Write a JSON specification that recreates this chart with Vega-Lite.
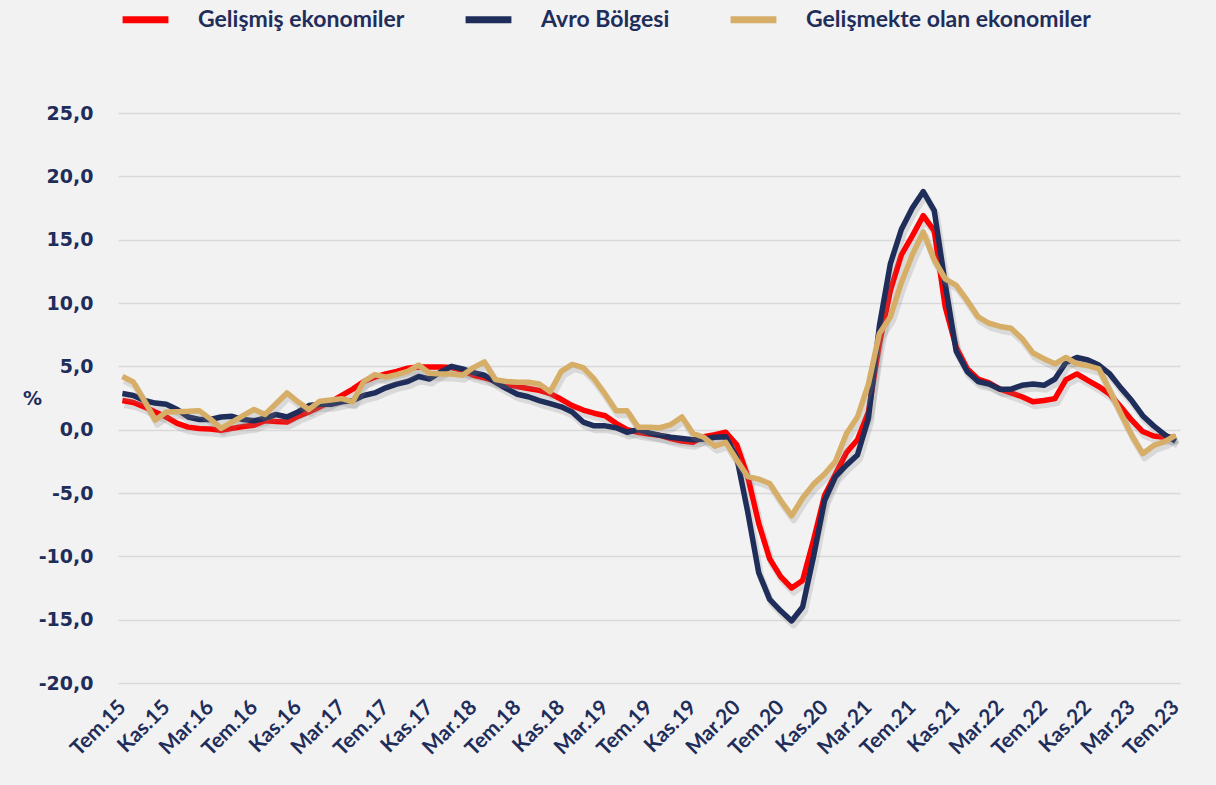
{
  "$schema": "https://vega.github.io/schema/vega-lite/v6.json",
  "width": 1062,
  "height": 570,
  "autosize": {"type": "none"},
  "padding": {"left": 118, "top": 113, "right": 36, "bottom": 102},
  "background": "#F2F2F2",
  "config": {"view": {"stroke": null}},
  "datasets": {
    "seri": [
      {"tarih": "2015-07", "G": 2.3, "A": 2.85, "E": 4.2},
      {"tarih": "2015-08", "G": 2.15, "A": 2.7, "E": 3.76},
      {"tarih": "2015-09", "G": 1.8, "A": 2.3, "E": 2.3},
      {"tarih": "2015-10", "G": 1.4, "A": 2.1, "E": 0.75},
      {"tarih": "2015-11", "G": 1.0, "A": 2.0, "E": 1.4},
      {"tarih": "2015-12", "G": 0.5, "A": 1.6, "E": 1.42},
      {"tarih": "2016-01", "G": 0.2, "A": 1.0, "E": 1.45},
      {"tarih": "2016-02", "G": 0.1, "A": 0.8, "E": 1.5},
      {"tarih": "2016-03", "G": 0.05, "A": 0.8, "E": 0.85},
      {"tarih": "2016-04", "G": -0.05, "A": 1.0, "E": 0.1},
      {"tarih": "2016-05", "G": 0.1, "A": 1.05, "E": 0.6},
      {"tarih": "2016-06", "G": 0.25, "A": 0.8, "E": 1.1},
      {"tarih": "2016-07", "G": 0.35, "A": 0.7, "E": 1.6},
      {"tarih": "2016-08", "G": 0.7, "A": 0.9, "E": 1.2},
      {"tarih": "2016-09", "G": 0.65, "A": 1.2, "E": 2.05},
      {"tarih": "2016-10", "G": 0.6, "A": 1.0, "E": 2.9},
      {"tarih": "2016-11", "G": 1.05, "A": 1.4, "E": 2.2},
      {"tarih": "2016-12", "G": 1.4, "A": 1.9, "E": 1.6},
      {"tarih": "2017-01", "G": 1.8, "A": 2.0, "E": 2.25},
      {"tarih": "2017-02", "G": 2.2, "A": 2.0, "E": 2.35},
      {"tarih": "2017-03", "G": 2.7, "A": 2.2, "E": 2.45},
      {"tarih": "2017-04", "G": 3.2, "A": 2.3, "E": 2.2},
      {"tarih": "2017-05", "G": 3.8, "A": 2.7, "E": 3.8},
      {"tarih": "2017-06", "G": 4.15, "A": 2.9, "E": 4.35},
      {"tarih": "2017-07", "G": 4.4, "A": 3.3, "E": 4.15},
      {"tarih": "2017-08", "G": 4.6, "A": 3.6, "E": 4.35},
      {"tarih": "2017-09", "G": 4.85, "A": 3.8, "E": 4.6},
      {"tarih": "2017-10", "G": 4.95, "A": 4.2, "E": 5.1},
      {"tarih": "2017-11", "G": 4.95, "A": 4.0, "E": 4.45},
      {"tarih": "2017-12", "G": 4.95, "A": 4.55, "E": 4.4},
      {"tarih": "2018-01", "G": 4.9, "A": 5.0, "E": 4.4},
      {"tarih": "2018-02", "G": 4.7, "A": 4.8, "E": 4.3},
      {"tarih": "2018-03", "G": 4.3, "A": 4.5, "E": 4.9},
      {"tarih": "2018-04", "G": 4.1, "A": 4.3, "E": 5.35},
      {"tarih": "2018-05", "G": 3.85, "A": 3.75, "E": 3.95},
      {"tarih": "2018-06", "G": 3.6, "A": 3.25, "E": 3.8},
      {"tarih": "2018-07", "G": 3.4, "A": 2.8, "E": 3.75},
      {"tarih": "2018-08", "G": 3.25, "A": 2.6, "E": 3.75},
      {"tarih": "2018-09", "G": 3.1, "A": 2.3, "E": 3.6},
      {"tarih": "2018-10", "G": 2.85, "A": 2.05, "E": 3.0},
      {"tarih": "2018-11", "G": 2.4, "A": 1.8, "E": 4.6},
      {"tarih": "2018-12", "G": 1.9, "A": 1.4, "E": 5.15},
      {"tarih": "2019-01", "G": 1.55, "A": 0.6, "E": 4.9},
      {"tarih": "2019-02", "G": 1.3, "A": 0.3, "E": 4.0},
      {"tarih": "2019-03", "G": 1.1, "A": 0.3, "E": 2.8},
      {"tarih": "2019-04", "G": 0.5, "A": 0.15, "E": 1.5},
      {"tarih": "2019-05", "G": 0.0, "A": -0.2, "E": 1.5},
      {"tarih": "2019-06", "G": -0.2, "A": 0.0, "E": 0.2},
      {"tarih": "2019-07", "G": -0.35, "A": -0.25, "E": 0.2},
      {"tarih": "2019-08", "G": -0.45, "A": -0.45, "E": 0.15},
      {"tarih": "2019-09", "G": -0.7, "A": -0.6, "E": 0.4},
      {"tarih": "2019-10", "G": -0.9, "A": -0.7, "E": 1.0},
      {"tarih": "2019-11", "G": -1.0, "A": -0.8, "E": -0.3},
      {"tarih": "2019-12", "G": -0.55, "A": -0.74, "E": -0.6},
      {"tarih": "2020-01", "G": -0.4, "A": -0.6, "E": -1.3},
      {"tarih": "2020-02", "G": -0.2, "A": -0.55, "E": -1.0},
      {"tarih": "2020-03", "G": -1.2, "A": -2.2, "E": -2.4},
      {"tarih": "2020-04", "G": -3.7, "A": -6.5, "E": -3.7},
      {"tarih": "2020-05", "G": -7.4, "A": -11.3, "E": -3.9},
      {"tarih": "2020-06", "G": -10.2, "A": -13.4, "E": -4.25},
      {"tarih": "2020-07", "G": -11.6, "A": -14.3, "E": -5.6},
      {"tarih": "2020-08", "G": -12.5, "A": -15.1, "E": -6.8},
      {"tarih": "2020-09", "G": -11.9, "A": -14.0, "E": -5.4},
      {"tarih": "2020-10", "G": -8.7, "A": -10.0, "E": -4.3},
      {"tarih": "2020-11", "G": -5.2, "A": -5.6, "E": -3.5},
      {"tarih": "2020-12", "G": -3.5, "A": -3.7, "E": -2.5},
      {"tarih": "2021-01", "G": -1.8, "A": -2.8, "E": -0.3},
      {"tarih": "2021-02", "G": -0.8, "A": -2.0, "E": 1.0},
      {"tarih": "2021-03", "G": 1.4, "A": 0.9, "E": 3.6},
      {"tarih": "2021-04", "G": 6.8, "A": 8.2, "E": 7.6},
      {"tarih": "2021-05", "G": 11.0, "A": 13.1, "E": 8.9},
      {"tarih": "2021-06", "G": 13.8, "A": 15.8, "E": 11.6},
      {"tarih": "2021-07", "G": 15.3, "A": 17.5, "E": 13.8},
      {"tarih": "2021-08", "G": 16.9, "A": 18.8, "E": 15.6},
      {"tarih": "2021-09", "G": 15.7, "A": 17.3, "E": 13.4},
      {"tarih": "2021-10", "G": 9.7, "A": 11.5, "E": 11.9},
      {"tarih": "2021-11", "G": 6.5, "A": 6.2, "E": 11.4},
      {"tarih": "2021-12", "G": 4.8, "A": 4.6, "E": 10.2},
      {"tarih": "2022-01", "G": 4.0, "A": 3.8, "E": 8.9},
      {"tarih": "2022-02", "G": 3.7, "A": 3.6, "E": 8.4},
      {"tarih": "2022-03", "G": 3.2, "A": 3.2, "E": 8.15},
      {"tarih": "2022-04", "G": 2.9, "A": 3.2, "E": 8.0},
      {"tarih": "2022-05", "G": 2.6, "A": 3.5, "E": 7.2},
      {"tarih": "2022-06", "G": 2.2, "A": 3.6, "E": 6.05},
      {"tarih": "2022-07", "G": 2.3, "A": 3.5, "E": 5.6},
      {"tarih": "2022-08", "G": 2.45, "A": 4.0, "E": 5.2},
      {"tarih": "2022-09", "G": 3.95, "A": 5.3, "E": 5.7},
      {"tarih": "2022-10", "G": 4.4, "A": 5.7, "E": 5.2},
      {"tarih": "2022-11", "G": 3.9, "A": 5.5, "E": 5.05},
      {"tarih": "2022-12", "G": 3.4, "A": 5.1, "E": 4.8},
      {"tarih": "2023-01", "G": 2.8, "A": 4.4, "E": 3.1},
      {"tarih": "2023-02", "G": 1.8, "A": 3.3, "E": 1.3},
      {"tarih": "2023-03", "G": 0.75, "A": 2.3, "E": -0.45},
      {"tarih": "2023-04", "G": -0.15, "A": 1.1, "E": -1.9},
      {"tarih": "2023-05", "G": -0.5, "A": 0.3, "E": -1.25},
      {"tarih": "2023-06", "G": -0.6, "A": -0.4, "E": -0.95},
      {"tarih": "2023-07", "G": -0.6, "A": -0.9, "E": -0.45}
    ]
  },
  "data": {"name": "seri"},
  "transform": [
    {"fold": ["G", "A", "E"], "as": ["kod", "deger"]},
    {"lookup": "kod", "from": {"data": {"values": [
      {"kod": "G", "seri": "Gelişmiş ekonomiler"},
      {"kod": "A", "seri": "Avro Bölgesi"},
      {"kod": "E", "seri": "Gelişmekte olan ekonomiler"}
    ]}, "key": "kod", "fields": ["seri"]}}
  ],
  "encoding": {
    "x": {
      "field": "tarih",
      "type": "ordinal",
      "scale": {"type": "point", "padding": 0.4},
      "axis": {
        "values": ["2015-07","2015-11","2016-03","2016-07","2016-11","2017-03","2017-07","2017-11","2018-03","2018-07","2018-11","2019-03","2019-07","2019-11","2020-03","2020-07","2020-11","2021-03","2021-07","2021-11","2022-03","2022-07","2022-11","2023-03","2023-07"],
        "labelExpr": "(substring(datum.value,5,7)=='07'?'Tem':substring(datum.value,5,7)=='11'?'Kas':'Mar')+'.'+substring(datum.value,2,4)",
        "labelAngle": -45,
        "labelAlign": "right",
        "labelBaseline": "middle",
        "labelFont": "Lato",
        "labelFontSize": 21,
        "labelFontWeight": "bold",
        "labelColor": "#1F2D5A",
        "labelPadding": 21,
        "labelOverlap": false,
        "ticks": false,
        "domain": false,
        "grid": false,
        "title": null
      }
    },
    "y": {
      "field": "deger",
      "type": "quantitative",
      "scale": {"domain": [-20, 25], "nice": false, "zero": false},
      "axis": {
        "values": [-20, -15, -10, -5, 0, 5, 10, 15, 20, 25],
        "labelExpr": "replace(replace(format(datum.value, '.1f'), '.', ','), '\u2212', '-')",
        "title": "%",
        "titleAngle": 0,
        "titleX": -86,
        "titleY": 285,
        "titleAlign": "center",
        "titleBaseline": "middle",
        "titleFont": "DejaVu Sans",
        "titleFontSize": 19,
        "titleFontWeight": "bold",
        "titleColor": "#1F2D5A",
        "labelFont": "DejaVu Sans",
        "labelFontSize": 19,
        "labelFontWeight": "bold",
        "labelColor": "#1F2D5A",
        "labelPadding": 25,
        "ticks": false,
        "domain": false,
        "grid": true,
        "gridColor": "#D9D9D9",
        "gridWidth": 1.5
      }
    }
  },
  "layer": [
    {"transform": [{"filter": "datum.kod === 'G'"}], "mark": {"type": "line", "color": "#808080", "opacity": 0.22, "strokeWidth": 7, "xOffset": 2, "yOffset": 4, "strokeJoin": "round"}, "encoding": {}},
    {"transform": [{"filter": "datum.kod === 'G'"}], "mark": {"type": "line", "strokeWidth": 5.5, "strokeJoin": "round"},
     "encoding": {"color": {"field": "seri", "type": "nominal",
       "scale": {"domain": ["Gelişmiş ekonomiler", "Avro Bölgesi", "Gelişmekte olan ekonomiler"], "range": ["#FF0000", "#1F2D5A", "#D6AE68"]},
       "legend": {"title": null, "orient": "none", "legendX": 1, "legendY": -120, "direction": "horizontal", "columns": 3, "symbolType": "stroke", "symbolStrokeWidth": 7, "symbolSize": 2100, "labelFont": "Lato", "labelFontSize": 23, "labelFontWeight": "bold", "labelColor": "#1F2D5A", "labelOffset": 26, "columnPadding": 46, "labelLimit": 500, "padding": 0}}}},
    {"transform": [{"filter": "datum.kod === 'A'"}], "mark": {"type": "line", "color": "#808080", "opacity": 0.22, "strokeWidth": 7, "xOffset": 2, "yOffset": 4, "strokeJoin": "round"}, "encoding": {}},
    {"transform": [{"filter": "datum.kod === 'A'"}], "mark": {"type": "line", "strokeWidth": 5.5, "strokeJoin": "round"},
     "encoding": {"color": {"field": "seri", "type": "nominal"}}},
    {"transform": [{"filter": "datum.kod === 'E'"}], "mark": {"type": "line", "color": "#808080", "opacity": 0.22, "strokeWidth": 7, "xOffset": 2, "yOffset": 4, "strokeJoin": "round"}, "encoding": {}},
    {"transform": [{"filter": "datum.kod === 'E'"}], "mark": {"type": "line", "strokeWidth": 5.5, "strokeJoin": "round"},
     "encoding": {"color": {"field": "seri", "type": "nominal"}}}
  ]
}
